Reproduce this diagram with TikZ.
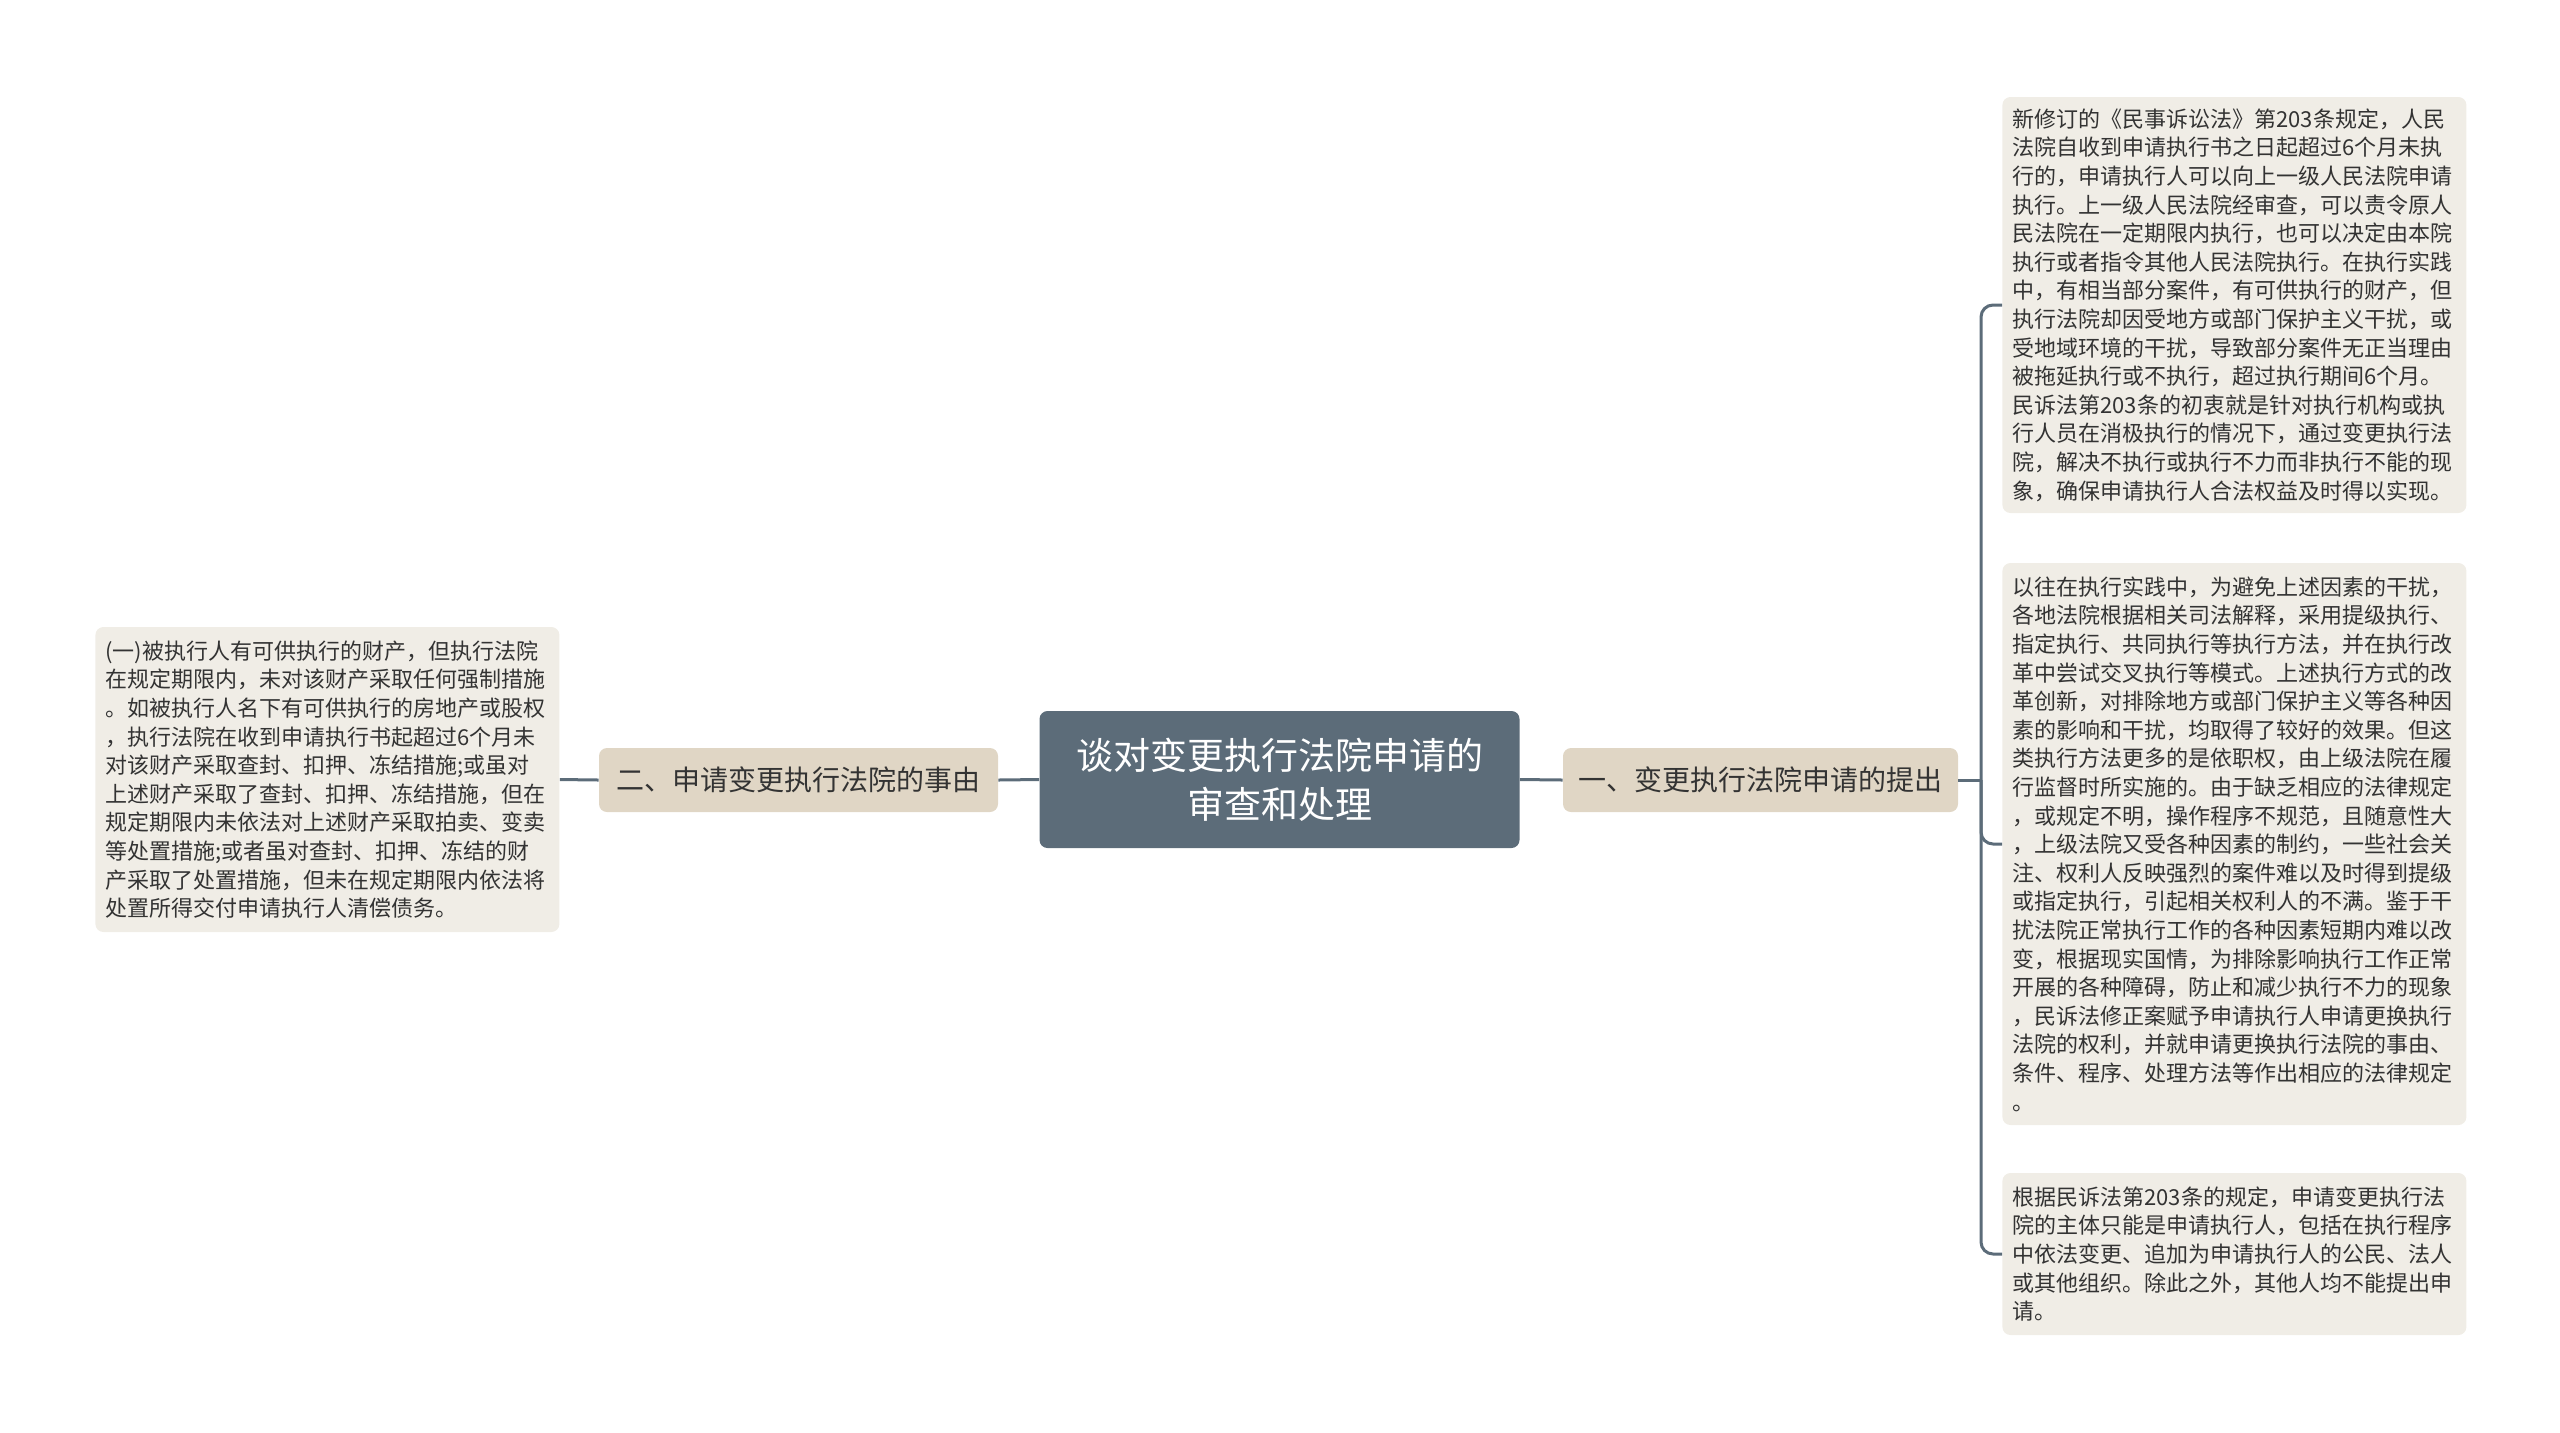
\documentclass[tikz,border=0pt]{standalone}
\usepackage{fontspec}
\setmainfont{Noto Sans CJK SC}
\definecolor{rootfill}{HTML}{5C6C79}
\definecolor{branchfill}{HTML}{E0D6C5}
\definecolor{leaffill}{HTML}{F0EDE6}
\definecolor{linkcol}{HTML}{5C6C79}
\definecolor{inkcol}{HTML}{333333}
\tikzset{
  rootbox/.style={draw=none,fill=rootfill,rounded corners=4pt,text=white,
    minimum width=240pt,minimum height=68.5pt,align=center,
    font=\fontsize{18.5pt}{24.5pt}\selectfont},
  branchbox/.style={draw=none,fill=branchfill,rounded corners=4pt,text=inkcol,
    minimum height=32pt,inner xsep=0pt,font=\fontsize{14pt}{17pt}\selectfont},
  leafbox/.style={draw=none,fill=leaffill,rounded corners=4pt,text=inkcol,
    anchor=west,text width=222pt,inner xsep=5pt,inner ysep=2pt,align=left,
    font=\fontsize{11pt}{14.3pt}\selectfont},
  link/.style={draw=linkcol,line width=1.5pt}
}
\begin{document}
\begin{tikzpicture}[x=0.5pt,y=-0.5pt]
   \useasboundingbox (0,0) rectangle (2560,1432);
   \node[rootbox] (root) at (1279.5,779.5) {谈对变更执行法院申请的\\审查和处理};
   \node[branchbox,minimum width=199.5pt] (two) at (798.5,780) {二、申请变更执行法院的事由};
   \node[branchbox,minimum width=197.5pt] (one) at (1760.5,780) {一、变更执行法院申请的提出};
   \node[leafbox,minimum height=152.5pt] (twoa) at (95,779.5) {(一)被执行人有可供执行的财产，但执行法院\\在规定期限内，未对该财产采取任何强制措施\\。如被执行人名下有可供执行的房地产或股权\\，执行法院在收到申请执行书起超过6个月未\\对该财产采取查封、扣押、冻结措施;或虽对\\上述财产采取了查封、扣押、冻结措施，但在\\规定期限内未依法对上述财产采取拍卖、变卖\\等处置措施;或者虽对查封、扣押、冻结的财\\产采取了处置措施，但未在规定期限内依法将\\处置所得交付申请执行人清偿债务。};
   \node[leafbox,minimum height=208pt] (onea) at (2002,305) {新修订的《民事诉讼法》第203条规定，人民\\法院自收到申请执行书之日起超过6个月未执\\行的，申请执行人可以向上一级人民法院申请\\执行。上一级人民法院经审查，可以责令原人\\民法院在一定期限内执行，也可以决定由本院\\执行或者指令其他人民法院执行。在执行实践\\中，有相当部分案件，有可供执行的财产，但\\执行法院却因受地方或部门保护主义干扰，或\\受地域环境的干扰，导致部分案件无正当理由\\被拖延执行或不执行，超过执行期间6个月。\\民诉法第203条的初衷就是针对执行机构或执\\行人员在消极执行的情况下，通过变更执行法\\院，解决不执行或执行不力而非执行不能的现\\象，确保申请执行人合法权益及时得以实现。};
   \node[leafbox,minimum height=281pt] (oneb) at (2002,844) {以往在执行实践中，为避免上述因素的干扰，\\各地法院根据相关司法解释，采用提级执行、\\指定执行、共同执行等执行方法，并在执行改\\革中尝试交叉执行等模式。上述执行方式的改\\革创新，对排除地方或部门保护主义等各种因\\素的影响和干扰，均取得了较好的效果。但这\\类执行方法更多的是依职权，由上级法院在履\\行监督时所实施的。由于缺乏相应的法律规定\\，或规定不明，操作程序不规范，且随意性大\\，上级法院又受各种因素的制约，一些社会关\\注、权利人反映强烈的案件难以及时得到提级\\或指定执行，引起相关权利人的不满。鉴于干\\扰法院正常执行工作的各种因素短期内难以改\\变，根据现实国情，为排除影响执行工作正常\\开展的各种障碍，防止和减少执行不力的现象\\，民诉法修正案赋予申请执行人申请更换执行\\法院的权利，并就申请更换执行法院的事由、\\条件、程序、处理方法等作出相应的法律规定\\。};
   \node[leafbox,minimum height=81pt] (onec) at (2002,1254) {根据民诉法第203条的规定，申请变更执行法\\院的主体只能是申请执行人，包括在执行程序\\中依法变更、追加为申请执行人的公民、法人\\或其他组织。除此之外，其他人均不能提出申\\请。};
   \coordinate (fork) at (1981,780);
   \draw[link] (root.west) -- (two.east);
   \draw[link] (two.west) -- (twoa.east);
   \draw[link] (root.east) -- (one.west);
   \draw[link] (one.east) -- (fork);
   \foreach \leaf in {onea,oneb,onec}
     \draw[link,rounded corners=6pt] (fork) |- (\leaf.west);
\end{tikzpicture}
\end{document}
